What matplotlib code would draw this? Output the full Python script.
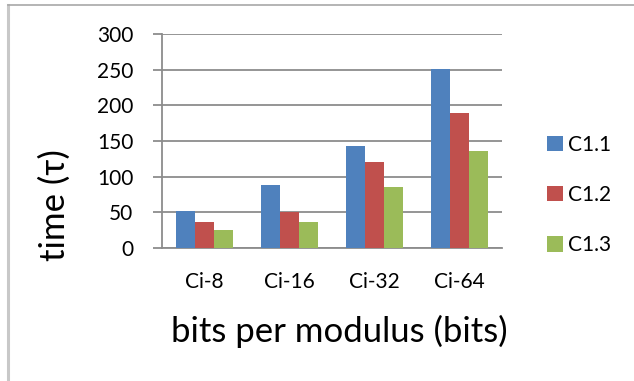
import matplotlib.pyplot as plt
import numpy as np
from matplotlib.lines import Line2D

plt.rcParams['font.family'] = ['Lato', 'DejaVu Sans']

categories = ['Ci-8', 'Ci-16', 'Ci-32', 'Ci-64']
series_names = ['C1.1', 'C1.2', 'C1.3']
c11 = [52, 89, 143, 251]
c12 = [36, 50, 120, 189]
c13 = [25, 36, 86, 136]
colors = ['#4F81BD', '#C0504D', '#9BBB59']

W, H = 634, 381
fig = plt.figure(figsize=(W / 100, H / 100), dpi=100)

# axes box in pixels: left 162, right 502, top 34, bottom 248
ax = fig.add_axes([162 / W, 1 - 248 / H, (502 - 162) / W, (248 - 34) / H])

x = np.arange(len(categories))
bw = 0.224
for i, (vals, name) in enumerate(zip([c11, c12, c13], series_names)):
    ax.bar(x + (i - 1) * bw, vals, width=bw, color=colors[i], label=name, zorder=3)

ax.set_xlim(-0.5, len(categories) - 0.5)
ax.set_ylim(0, 300)
ax.set_yticks(range(0, 301, 50))
ax.set_xticks(x)
ax.set_xticklabels(categories, fontsize=15)
ax.tick_params(axis='y', labelsize=15, length=6.5, width=1.3, color='#8c8c8c', pad=14)
ax.tick_params(axis='x', length=0, pad=17)
ax.grid(axis='y', color='#8c8c8c', linewidth=1.3, zorder=0)

for side in ['top', 'right']:
    ax.spines[side].set_visible(False)
for side in ['left', 'bottom']:
    ax.spines[side].set_color('#8c8c8c')
    ax.spines[side].set_linewidth(1.3)

fig.text(55 / W, 1 - 205 / H, 'time (τ)', rotation=90, fontsize=25,
         ha='center', va='center')
fig.text(339 / W, 1 - 331 / H, 'bits per modulus (bits)', fontsize=25,
         ha='center', va='center')

ax.legend(loc='center left', bbox_to_anchor=(539 / W, 1 - 195 / H),
          bbox_transform=fig.transFigure, frameon=False, fontsize=15,
          handlelength=0.75, handleheight=0.75, handletextpad=0.25,
          labelspacing=1.45, borderaxespad=0)

# outer frame (only left and top edges visible)
fig.add_artist(Line2D([8 / W, 8 / W], [0, 1 - 5 / H], color='#c8c8c8',
                      linewidth=2.2, transform=fig.transFigure))
fig.add_artist(Line2D([8 / W, 1], [1 - 5 / H, 1 - 5 / H], color='#a8a8a8',
                      linewidth=1.2, transform=fig.transFigure))

fig.savefig('out.png', dpi=100)
